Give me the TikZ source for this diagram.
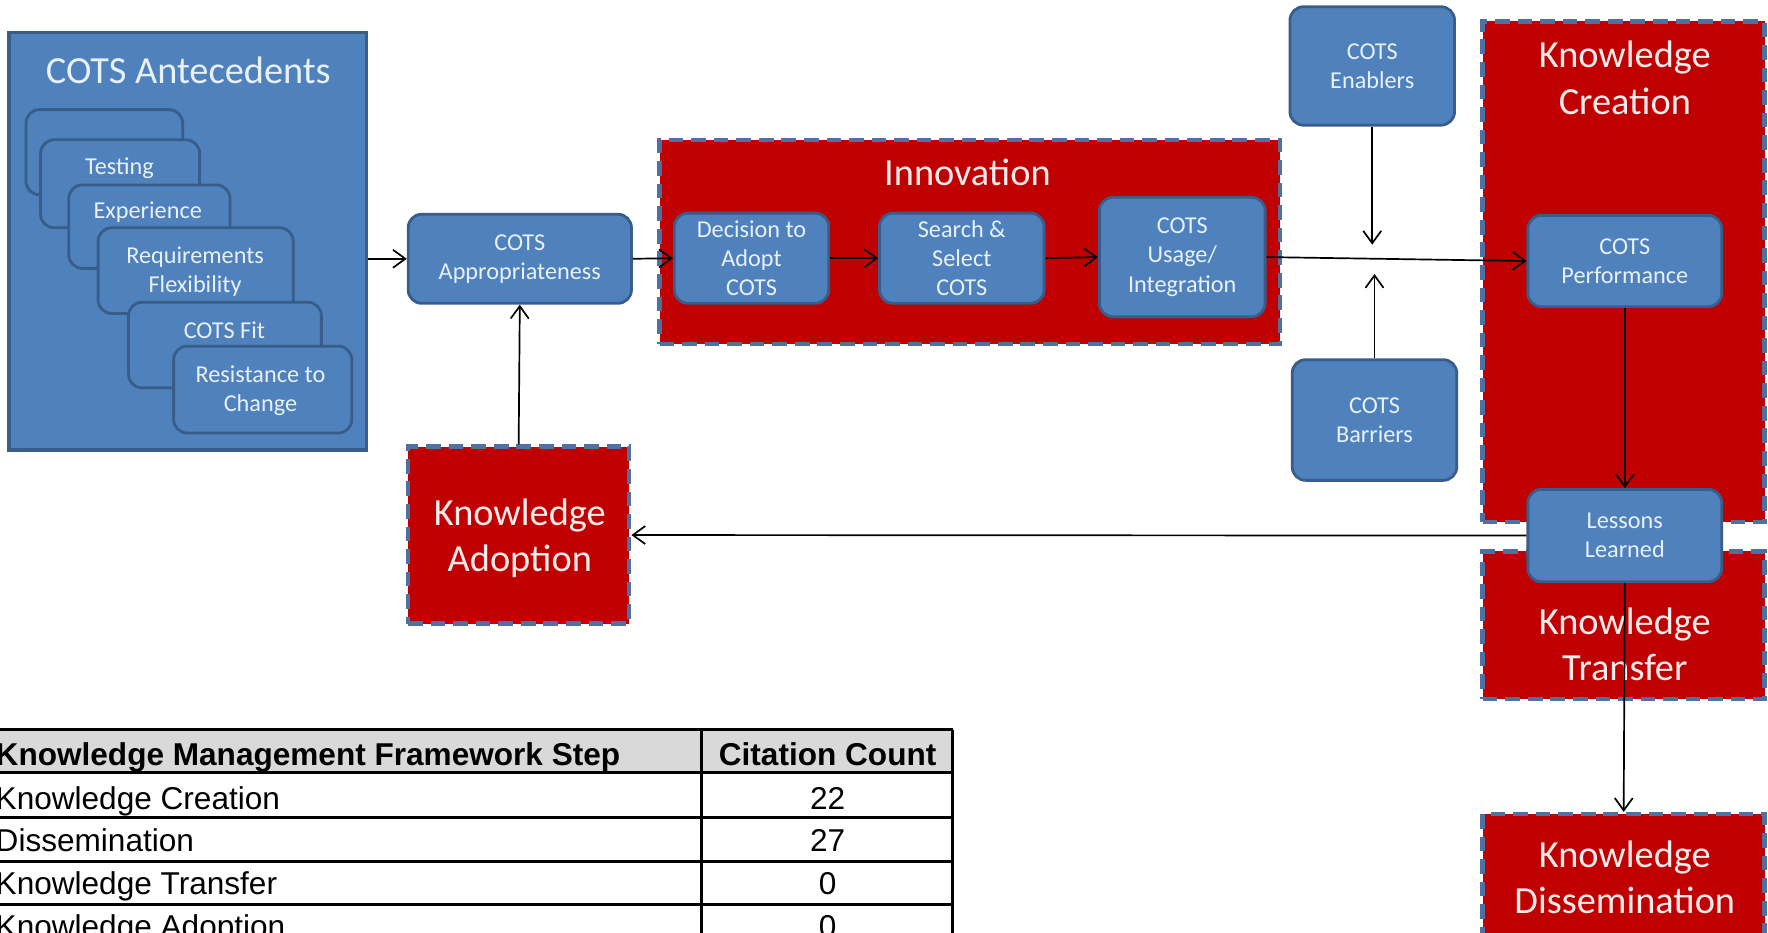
\documentclass[tikz,border=0pt]{standalone}
\usepackage{fontspec}
\setmainfont{Carlito}
\newfontfamily\tabfont{Liberation Sans}
\usetikzlibrary{arrows.meta}
\definecolor{bfill}{HTML}{4F81BD}
\definecolor{bline}{HTML}{385D8A}
\definecolor{kred}{HTML}{C00000}
\definecolor{dashc}{HTML}{50709F}
\definecolor{ltxt}{HTML}{E8F0FA}
\definecolor{rtxt}{HTML}{FCEBEB}
\definecolor{hgray}{HTML}{D9D9D9}
\begin{document}
\begin{tikzpicture}[x=1pt,y=-1pt,
  bluebox/.style={draw=bline, line width=2.5pt, fill=bfill, rounded corners=12pt, text=ltxt, align=center, font=\fontsize{21.5}{26}\selectfont, inner sep=0pt},
  cardbox/.style={draw=bline, line width=2.5pt, fill=bfill, rounded corners=12pt, inner sep=0pt},
  bigblue/.style={draw=bline, line width=3pt, fill=bfill, inner sep=0pt},
  redbox/.style={draw=dashc, line width=4pt, dash pattern=on 13pt off 7pt, fill=kred, inner sep=0pt},
  ttl/.style={text=rtxt, align=center, font=\fontsize{34}{41}\selectfont, inner sep=0pt},
  bttl/.style={text=ltxt, align=center, font=\fontsize{34}{41}\selectfont, inner sep=0pt},
  smalltxt/.style={text=ltxt, align=center, font=\fontsize{21.5}{26}\selectfont, inner sep=0pt},
  arr/.style={draw=black, line width=1.5pt, -{Straight Barb[length=11pt,width=16pt]}},
  tabline/.style={draw=black, line width=2.5pt},
  tabtxt/.style={inner sep=0pt, font=\tabfont\fontsize{28}{30}\selectfont},
  tabhead/.style={inner sep=0pt, font=\tabfont\fontsize{28}{30}\selectfont\bfseries}
]
\useasboundingbox (0,0) rectangle (1568,827);
\fill[white] (0,0) rectangle (1568,827);
\clip (0,0) rectangle (1568,827);

% COTS Antecedents
\node[bigblue, minimum width=317pt, minimum height=370pt] (ante) at (166.5,214) {};
\node[bttl] (antet) at (167,62) {COTS Antecedents};
\node[cardbox, minimum width=139pt, minimum height=75.5pt] (c1) at (92.5,135) {};
\node[cardbox, minimum width=141pt, minimum height=78pt] (c2) at (106.5,163) {};
\node[smalltxt] (t2) at (106,149) {Testing};
\node[cardbox, minimum width=143pt, minimum height=74pt] (c3) at (132.5,201) {};
\node[smalltxt] (t3) at (131,188) {Experience};
\node[cardbox, minimum width=173pt, minimum height=76pt] (c4) at (173.5,240) {};
\node[smalltxt] (t4) at (173,241) {Requirements\\Flexibility};
\node[cardbox, minimum width=171pt, minimum height=76pt] (c5) at (199.5,306) {};
\node[smalltxt] (t5) at (199,293) {COTS Fit};
\node[cardbox, minimum width=158pt, minimum height=77pt] (c6) at (233,345.5) {};
\node[smalltxt] (t6) at (231,346.5) {Resistance to\\Change};

% red containers
\node[redbox, minimum width=550pt, minimum height=181pt] (inno) at (860,214.5) {};
\node[ttl] (innot) at (858,153) {Innovation};
\node[redbox, minimum width=196pt, minimum height=157pt] (adop) at (460,474.5) {};
\node[ttl] (adopt) at (461,477.5) {Knowledge\\Adoption};
\node[redbox, minimum width=250pt, minimum height=444pt] (crea) at (1440,241) {};
\node[ttl] (creat) at (1441,69) {Knowledge\\Creation};
\node[redbox, minimum width=250pt, minimum height=131pt] (tran) at (1440,554.5) {};
\node[ttl] (trant) at (1441,571.5) {Knowledge\\Transfer};
\node[redbox, minimum width=250pt, minimum height=140pt] (diss) at (1440,792) {};
\node[ttl] (disst) at (1441,778) {Knowledge\\Dissemination};

% blue process boxes
\node[bluebox, minimum width=198pt, minimum height=79pt] (app) at (461,229.5) {COTS\\Appropriateness};
\node[bluebox, minimum width=137pt, minimum height=80pt] (dec) at (666.5,229) {Decision to\\Adopt\\COTS};
\node[bluebox, minimum width=146pt, minimum height=80pt] (sea) at (853,229) {Search \&\\Select\\COTS};
\node[bluebox, minimum width=147pt, minimum height=106pt] (use) at (1048.5,228) {COTS\\Usage/\\Integration};
\node[bluebox, minimum width=146pt, minimum height=105pt] (ena) at (1217,58.5) {COTS\\Enablers};
\node[bluebox, minimum width=146pt, minimum height=107pt] (bar) at (1219,372.5) {COTS\\Barriers};
\node[bluebox, minimum width=172pt, minimum height=81pt] (perf) at (1441,231.5) {COTS\\Performance};
\node[bluebox, minimum width=172pt, minimum height=82pt] (les) at (1441,475) {Lessons\\Learned};

% connectors
\coordinate (enaend) at (1217,217);
\coordinate (barend) at (1219,243);
\draw[arr] (ante.east |- app.west) -- (app.west);
\draw[arr] (app.east) -- (dec.west);
\draw[arr] (dec.east) -- (sea.west);
\draw[arr] (sea.east) -- (use.west);
\draw[arr] (use.east) -- (perf.west);
\draw[arr] (ena.south) -- (enaend);
\draw[arr] (bar.north) -- (barend);
\draw[arr] (perf.south) -- (les.north);
\draw[arr] (les.west) -- (adop.east);
\draw[arr] (les.south) -- (diss.north);
\draw[arr] (adop.north) -- (app.south);

% table
\fill[hgray] (-10,647) rectangle (845,685);
\draw[tabline] (-10,647) -- (845,647);
\draw[tabline] (-10,685) -- (845,685);
\draw[tabline] (-10,725) -- (845,725);
\draw[tabline] (-10,764) -- (845,764);
\draw[tabline] (-10,802) -- (845,802);
\draw[tabline] (622,647) -- (622,850);
\draw[tabline] (845,647) -- (845,850);
\node[tabhead, anchor=base west] (h1) at (-4,679) {Knowledge Management Framework Step};
\node[tabhead, anchor=base] (h2) at (734,679) {Citation Count};
\node[tabtxt, anchor=base west] (r1) at (-4,718) {Knowledge Creation};
\node[tabtxt, anchor=base] (n1) at (734,718) {22};
\node[tabtxt, anchor=base west] (r2) at (-4,755) {Dissemination};
\node[tabtxt, anchor=base] (n2) at (734,755) {27};
\node[tabtxt, anchor=base west] (r3) at (-4,793) {Knowledge Transfer};
\node[tabtxt, anchor=base] (n3) at (734,793) {0};
\node[tabtxt, anchor=base west] (r4) at (-4,831) {Knowledge Adoption};
\node[tabtxt, anchor=base] (n4) at (734,831) {0};
\end{tikzpicture}
\end{document}
